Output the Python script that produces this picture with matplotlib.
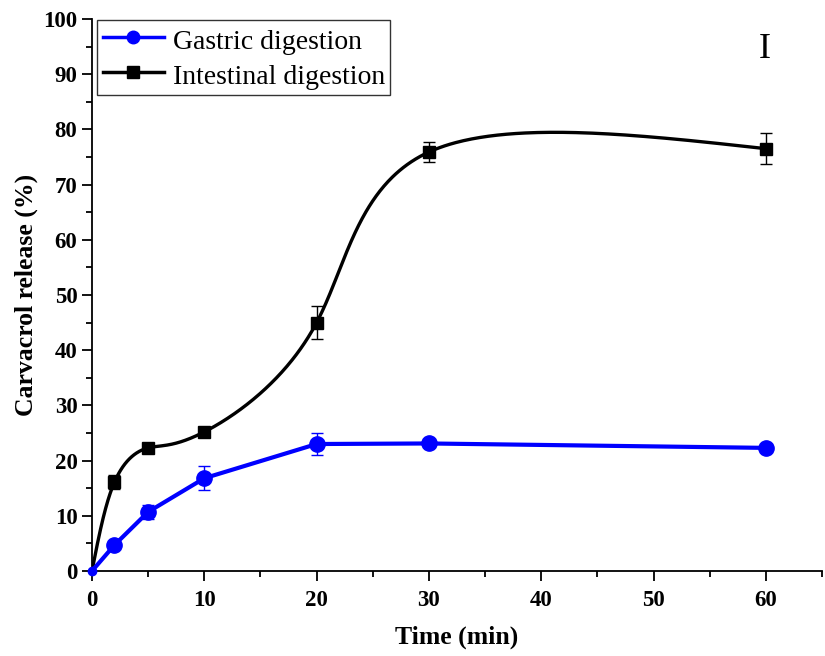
import numpy as np
import matplotlib
matplotlib.use("Agg")
import matplotlib.pyplot as plt
from matplotlib.ticker import MultipleLocator

plt.rcParams['font.family'] = ['Liberation Serif', 'DejaVu Serif']

# data
time = [0, 2, 5, 10, 20, 30, 60]
gastric = [0, 4.7, 10.7, 16.8, 23.0, 23.1, 22.3]
gastric_err = [0, 0.4, 1.2, 2.2, 2.0, 0.3, 0.4]
intestinal = [0, 16.1, 22.3, 25.2, 45.0, 75.9, 76.5]
intestinal_err = [0, 1.3, 0.5, 0.5, 3.0, 1.8, 2.8]


def natural_spline(t, y, ts):
    t = np.asarray(t, float)
    y = np.asarray(y, float)
    n = len(t)
    h = np.diff(t)
    A = np.zeros((n, n))
    b = np.zeros(n)
    A[0, 0] = A[-1, -1] = 1
    for i in range(1, n - 1):
        A[i, i - 1] = h[i - 1]
        A[i, i] = 2 * (h[i - 1] + h[i])
        A[i, i + 1] = h[i]
        b[i] = 6 * ((y[i + 1] - y[i]) / h[i] - (y[i] - y[i - 1]) / h[i - 1])
    M = np.linalg.solve(A, b)
    k = np.clip(np.searchsorted(t, ts) - 1, 0, n - 2)
    t0 = t[k + 1] - ts
    t1 = ts - t[k]
    hk = h[k]
    return (M[k] * t0**3 / (6 * hk) + M[k + 1] * t1**3 / (6 * hk)
            + (y[k] / hk - M[k] * hk / 6) * t0
            + (y[k + 1] / hk - M[k + 1] * hk / 6) * t1)


def param_spline(x, y, num=800):
    # parametric spline, one parameter step per data point
    t = np.arange(len(x), dtype=float)
    ts = np.linspace(0, t[-1], num)
    return natural_spline(t, x, ts), natural_spline(t, y, ts)


fig = plt.figure(figsize=(8.25, 6.56), dpi=100)
ax = fig.add_axes([0.1115, 0.1296, 0.885, 0.8415])

cx, cy = param_spline(time, intestinal)
ax.plot(cx, cy, color='black', lw=2.4, zorder=3)
ax.errorbar(time[1:], intestinal[1:], yerr=intestinal_err[1:], fmt='none',
            ecolor='black', elinewidth=1, capsize=4, capthick=1, zorder=4)
ax.plot(time[1:], intestinal[1:], 's', color='black', ms=9, zorder=5)

ax.errorbar(time[1:], gastric[1:], yerr=gastric_err[1:], fmt='none',
            ecolor='blue', elinewidth=1, capsize=4, capthick=1, zorder=4)
ax.plot(time, gastric, '-', color='blue', lw=3, zorder=3)
ax.plot(time[1:], gastric[1:], 'o', color='blue', ms=11, zorder=5)
ax.plot([0], [0], 'o', color='blue', ms=6, zorder=5, clip_on=False)

# legend proxies
ax.plot([], [], '-o', color='blue', lw=2.5, ms=9, label='Gastric digestion')
ax.plot([], [], '-s', color='black', lw=2.5, ms=8, label='Intestinal digestion')
leg = ax.legend(loc='upper left', bbox_to_anchor=(0.007, 0.998), fontsize=20,
                frameon=True, fancybox=False, edgecolor='black',
                handlelength=2.2, handleheight=1.15, borderpad=0.2,
                labelspacing=0.2, handletextpad=0.32, borderaxespad=0)
leg.get_frame().set_linewidth(1.0)

ax.text(0.922, 0.975, 'I', transform=ax.transAxes, fontsize=26, ha='center', va='top')

ax.set_xlim(0, 65)
ax.set_ylim(0, 100)
ax.xaxis.set_major_locator(MultipleLocator(10))
ax.xaxis.set_minor_locator(MultipleLocator(5))
ax.yaxis.set_major_locator(MultipleLocator(10))
ax.yaxis.set_minor_locator(MultipleLocator(5))
ax.tick_params(which='major', direction='out', length=7, width=1.3, labelsize=16.5)
ax.tick_params(axis='x', which='major', pad=7)
ax.tick_params(which='minor', direction='out', length=4, width=1.3)
for lab in ax.get_xticklabels() + ax.get_yticklabels():
    lab.set_fontweight('bold')

ax.spines['top'].set_visible(False)
ax.spines['right'].set_visible(False)
ax.spines['left'].set_linewidth(1.3)
ax.spines['bottom'].set_linewidth(1.3)

ax.set_xlabel('Time (min)', fontsize=18.5, fontweight='bold', labelpad=10)
ax.set_ylabel('Carvacrol release (%)', fontsize=18.5, fontweight='bold', labelpad=4)

fig.savefig('out.png', dpi=100)
